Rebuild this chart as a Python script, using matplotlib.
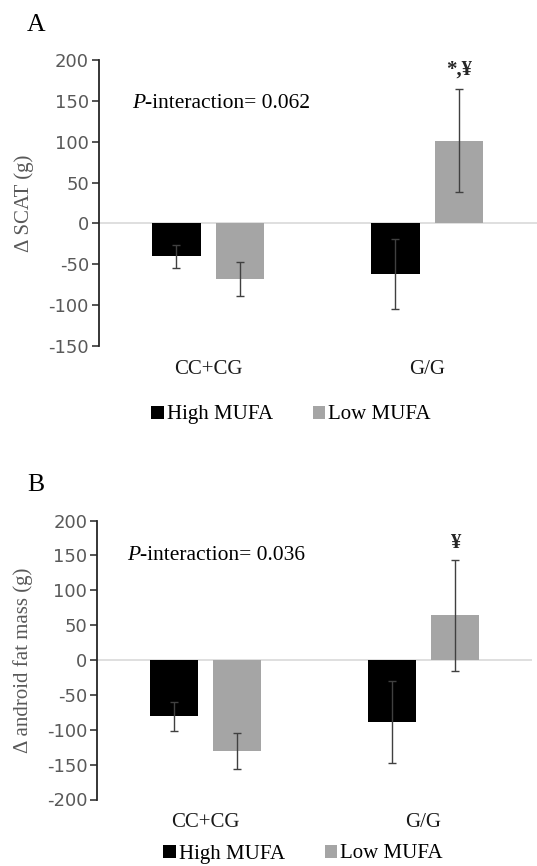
import matplotlib
matplotlib.use("Agg")
import matplotlib.pyplot as plt
import numpy as np

# data (change in grams)
groups = ["CC+CG", "G/G"]
series = ["High MUFA", "Low MUFA"]

scat_high = [-40, -62]
scat_high_err = [14, 43]
scat_low = [-68, 101]
scat_low_err = [21, 63]

android_high = [-81, -89]
android_high_err = [21, 59]
android_low = [-130, 64]
android_low_err = [26, 80]

scat_ticks = [-150, -100, -50, 0, 50, 100, 150, 200]
android_ticks = [-200, -150, -100, -50, 0, 50, 100, 150, 200]

W, H = 537, 866
SERIF = "Liberation Serif"
GRAY_BAR = "#a5a5a5"
ERR_COLOR = "#404040"
TICK_COLOR = "#595959"

plt.rcParams["axes.unicode_minus"] = False  # excel style hyphen minus


def px_rect(left, top, width, height):
    return [left / W, 1 - (top + height) / H, width / W, height / H]


def draw_panel(ax, high, high_err, low, low_err, ticks, ylabel, mark, mark_off):
    x = np.arange(len(groups)) + 0.5
    w = 0.222
    err_kw = dict(ecolor=ERR_COLOR, elinewidth=1.0, capsize=3, capthick=1.0)
    ax.bar(x - 0.145, high, w, color="black", yerr=high_err, error_kw=err_kw,
           label=series[0], zorder=2)
    ax.bar(x + 0.145, low, w, color=GRAY_BAR, yerr=low_err, error_kw=err_kw,
           label=series[1], zorder=2)
    ax.axhline(0, color="#d9d9d9", lw=1.2, zorder=1)

    ax.set_xlim(0, 2)
    ax.set_ylim(ticks[0], ticks[-1])
    ax.set_yticks(ticks)
    ax.set_xticks(x)
    ax.set_xticklabels(groups, fontfamily=SERIF, fontsize=15, color="#1a1a1a")
    ax.tick_params(axis="x", length=0, pad=10)
    ax.tick_params(axis="y", direction="out", length=5, width=1.1, color="#262626",
                   labelsize=13, labelcolor=TICK_COLOR, pad=2)
    for s in ["top", "right", "bottom"]:
        ax.spines[s].set_visible(False)
    ax.spines["left"].set_linewidth(1.3)
    ax.spines["left"].set_color("#262626")
    ax.set_ylabel(ylabel, fontfamily=SERIF, fontsize=15, color=TICK_COLOR)
    ax.yaxis.set_label_coords(-0.147, 0.5)

    # significance mark above the Low MUFA G/G error bar
    ax.annotate(mark, xy=(x[1] + 0.145, low[1] + low_err[1]), xytext=(0, mark_off),
                textcoords="offset points", ha="center", va="bottom",
                fontfamily=SERIF, fontsize=15, fontweight="bold", color="#262626")
    return ax


fig = plt.figure(figsize=(W / 100, H / 100), dpi=100)

axA = fig.add_axes(px_rect(98.6, 60, 438, 286))
draw_panel(axA, scat_high, scat_high_err, scat_low, scat_low_err, scat_ticks,
           "\u0394 SCAT (g)", "*,\u00a5", 7)
axB = fig.add_axes(px_rect(97, 520.5, 435, 279))
draw_panel(axB, android_high, android_high_err, android_low, android_low_err,
           android_ticks, "\u0394 android fat mass (g)", "\u00a5", 5)

# P-interaction notes
for (px, py), val in [((132, 103), "0.062"), ((127, 556), "0.036")]:
    t = fig.text(px / W, 1 - py / H, "P", fontfamily=SERIF, fontstyle="italic",
                 fontsize=15.5, va="center", ha="left")
    plt.annotate("-interaction= " + val, xy=(1, 0), xycoords=t, va="bottom",
                 ha="left", fontfamily=SERIF, fontsize=15.5)

# panel letters
fig.text(27 / W, 1 - 31 / H, "A", fontfamily=SERIF, fontsize=18.5, va="baseline")
fig.text(27 / W, 1 - 491 / H, "B", fontfamily=SERIF, fontsize=18.5, va="baseline")

# legends
for ax, (cx, cy) in [(axA, (291, 415)), (axB, (303, 854))]:
    h, l = ax.get_legend_handles_labels()
    fig.legend(h, l, loc="center", bbox_to_anchor=(cx / W, 1 - cy / H), ncol=2,
               frameon=False, handlelength=0.6, handleheight=0.6, handletextpad=0.15,
               columnspacing=1.9, borderpad=0.1, prop={"family": SERIF, "size": 15})

fig.savefig("out.png", dpi=100)
